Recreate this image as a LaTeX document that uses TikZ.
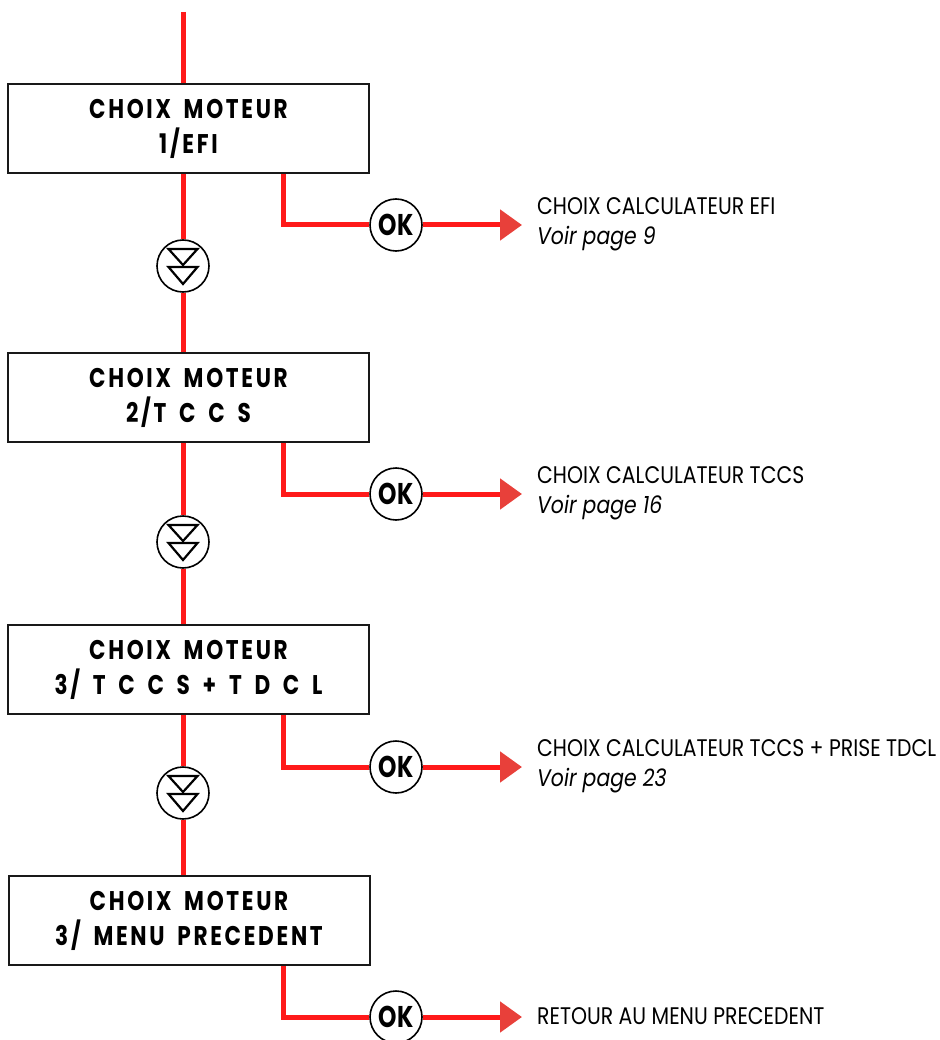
\documentclass[tikz,border=0pt]{standalone}
\usepackage{fontspec}
\setmainfont{Poppins}
\newfontfamily\menufont{Poppins}[FakeStretch=0.8, LetterSpace=10, WordSpace=1.75]
\newfontfamily\okfont{Poppins}[FakeStretch=0.78]
\newfontfamily\infofont{Poppins}[FakeStretch=0.85]
\usetikzlibrary{arrows.meta}
\definecolor{linered}{HTML}{FF1A1A}
\definecolor{tipred}{HTML}{E8403A}
\tikzset{
    menu/.style={draw=black!90, line width=2, fill=white, minimum width=361, minimum height=89,
        inner sep=0, align=center, font=\menufont\bfseries\fontsize{27}{35}\selectfont},
    okbtn/.style={circle, draw, line width=1.6, fill=white, minimum size=52, inner sep=0,
        font=\okfont\bfseries\fontsize{30}{30}\selectfont},
    downbtn/.style={circle, draw, line width=1.6, fill=white, minimum size=52, inner sep=0,
        path picture={
            \draw[line width=2.2] ([shift={(-14.5,-17)}]path picture bounding box.center) -- ++(29,0) -- ++(-14.5,16) -- cycle;
            \draw[line width=2.2] ([shift={(-14.5,1)}]path picture bounding box.center) -- ++(29,0) -- ++(-14.5,17) -- cycle;
        }},
    info/.style={anchor=west, align=left, inner sep=0, font=\infofont\fontsize{24}{30}\selectfont},
    redline/.style={linered, line width=5},
    okarrow/.style={-{Triangle[length=22pt,width=30pt,color=tipred]}}
}
\begin{document}
\begin{tikzpicture}[x=1pt, y=-1pt]
    \useasboundingbox (0,0) rectangle (939,1040);

    % menu screens
    \node[menu] (m1) at (188.5,128.5) {CHOIX MOTEUR\\1/EFI};
    \node[menu] (m2) at (188.5,397.5) {CHOIX MOTEUR\\2/T C C S};
    \node[menu] (m3) at (188.5,669.5) {CHOIX MOTEUR\\3/ T C C S + T D C L};
    \node[menu] (m4) at (189,920.5) {CHOIX MOTEUR\\3/ MENU PRECEDENT};

    % keys
    \node[downbtn] (d1) at (183,266) {};
    \node[downbtn] (d2) at (183,542) {};
    \node[downbtn] (d3) at (183,793) {};
    \node[okbtn] (ok1) at (396,225) {OK};
    \node[okbtn] (ok2) at (396,494) {OK};
    \node[okbtn] (ok3) at (396,767) {OK};
    \node[okbtn] (ok4) at (396,1017) {OK};

    % results
    \node[info] (r1) at (537,224) {CHOIX CALCULATEUR EFI\\\textit{Voir page 9}};
    \node[info] (r2) at (537,493) {CHOIX CALCULATEUR TCCS\\\textit{Voir page 16}};
    \node[info] (r3) at (537,766) {CHOIX CALCULATEUR TCCS + PRISE TDCL\\\textit{Voir page 23}};
    \node[info] (r4) at (537,1016) {RETOUR AU MENU PRECEDENT};

    % main line
    \coordinate (top) at (183,12);
    \draw[redline] (top) -- (top |- m1.north);
    \draw[redline] (m1.south -| top) -- (d1);
    \draw[redline] (d1) -- (d1 |- m2.north);
    \draw[redline] (m2.south -| top) -- (d2);
    \draw[redline] (d2) -- (d2 |- m3.north);
    \draw[redline] (m3.south -| top) -- (d3);
    \draw[redline] (d3) -- (d3 |- m4.north);

    % OK branches
    \foreach \i in {1,2,3,4} {
        \draw[redline] ([xshift=94.5pt]m\i.south) |- (ok\i);
        \draw[redline, okarrow] (ok\i) -- ([xshift=-15pt]ok\i -| r\i.west);
    }
\end{tikzpicture}
\end{document}
